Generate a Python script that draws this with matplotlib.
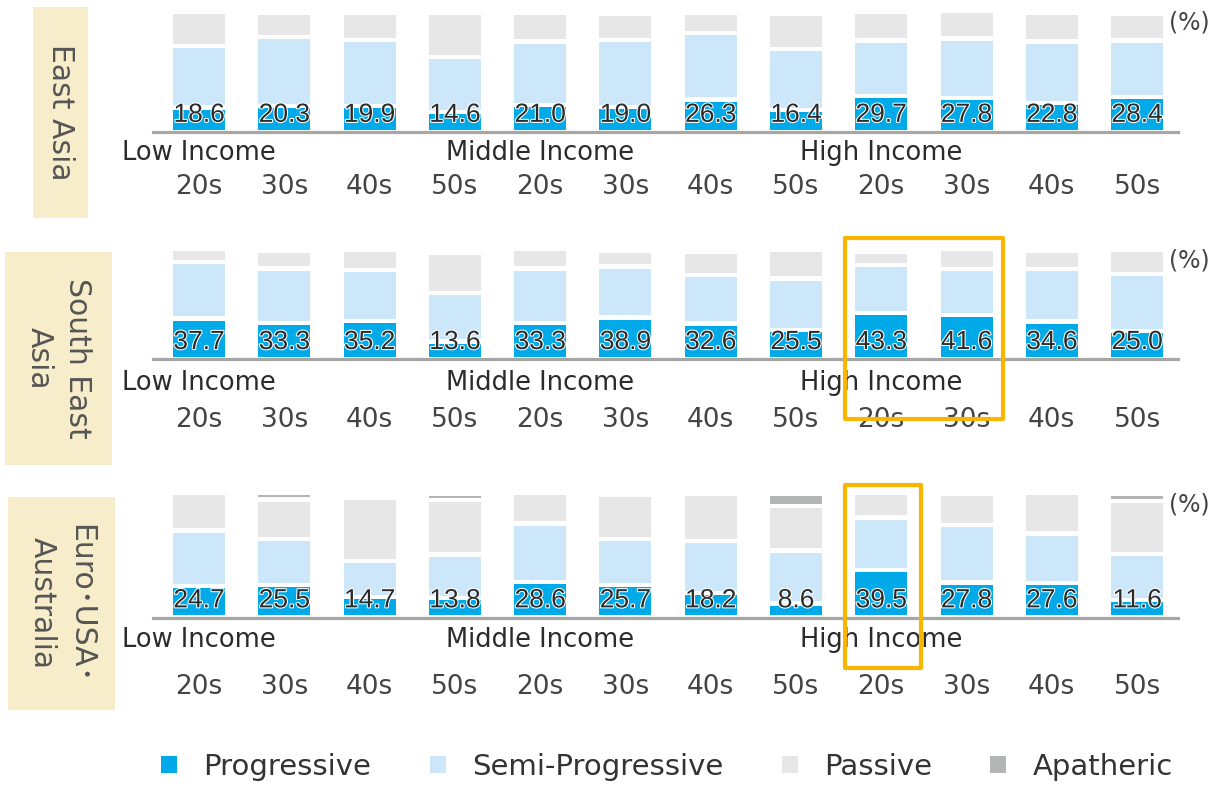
import numpy as np
import matplotlib
matplotlib.use("Agg")
import matplotlib.pyplot as plt
from matplotlib.patches import Rectangle, Patch
import matplotlib.patheffects as pe

plt.rcParams['font.family'] = ['DejaVu Sans', 'Noto Sans CJK JP']

# age brackets inside each income group
ages = ["20s", "30s", "40s", "50s"] * 3
groups = ["Low Income", "Middle Income", "High Income"]
group_pos = [0, 4, 8]
series = ["Progressive", "Semi-Progressive", "Passive", "Apatheric"]

# East Asia
east_prog = [18.6, 20.3, 19.9, 14.6, 21.0, 19.0, 26.3, 16.4, 29.7, 27.8, 22.8, 28.4]
east_semi = [53.8, 60.6, 58.7, 47.4, 56.0, 59.6, 58.6, 53.7, 48.1, 51.9, 54.2, 49.6]
east_pass = [28.9, 18.9, 21.0, 37.7, 22.9, 20.4, 14.8, 29.2, 22.9, 22.1, 22.9, 20.5]
east_apa = [0, 0, 0, 0, 0, 0, 0, 0, 0, 0, 0, 0]

# South East Asia
sea_prog = [37.7, 33.3, 35.2, 13.6, 33.3, 38.9, 32.6, 25.5, 43.3, 41.6, 34.6, 25.0]
sea_semi = [54.8, 52.4, 48.9, 46.5, 52.4, 48.9, 46.1, 49.6, 45.7, 43.6, 50.6, 55.2]
sea_pass = [9.4, 14.0, 16.1, 37.3, 16.4, 11.5, 20.2, 25.5, 9.1, 16.4, 14.0, 20.2]
sea_apa = [0, 0, 0, 0, 0, 0, 0, 0, 0, 0, 0, 0]

# Euro / USA / Australia
euro_prog = [24.7, 25.5, 14.7, 13.8, 28.6, 25.7, 18.2, 8.6, 39.5, 27.8, 27.6, 11.6]
euro_semi = [46.8, 38.4, 28.7, 35.8, 49.5, 38.2, 43.6, 44.6, 44.0, 48.6, 41.3, 38.6]
euro_pass = [30.6, 32.1, 54.1, 45.9, 24.5, 36.7, 39.1, 36.7, 18.3, 24.5, 33.0, 44.3]
euro_apa = [0, 2.0, 0, 2.0, 0, 0, 0, 7.6, 0, 0, 0, 2.8]

colors = ["#00a9e8", "#cde7fa", "#e6e7e6", "#b4b5b5"]

W, H = 1217, 785
fig = plt.figure(figsize=(W / 100, H / 100), dpi=100)

YTOP = 115
GAP_PX = 4.3
BAR_W = 0.61

# name, data, baseline px, px per %, group label offset, age label offset, label box, highlight
panels = [
    ("East Asia", (east_prog, east_semi, east_pass, east_apa), 129.5, 1.06, 23, 57,
     (33, 7, 55, 211), None),
    ("South East\nAsia", (sea_prog, sea_semi, sea_pass, sea_apa), 356.7, 0.955, 26, 63,
     (5, 252, 107, 213), (8 - 0.43, 9 + 0.43, 1.08, -0.565)),
    ("Euro･USA･\nAustralia", (euro_prog, euro_semi, euro_pass, euro_apa), 615, 1.09, 25, 72,
     (8, 497, 107, 213), (8 - 0.43, 8 + 0.47, 1.04, -0.42)),
]

x = np.arange(len(ages))
halo = [pe.withStroke(linewidth=1.5, foreground="white")]

for name, data, base, scale, goff, aoff, box, hl in panels:
    prog, semi, pas, apa = (np.array(d, dtype=float) for d in data)
    ax = fig.add_axes([153 / W, 1 - base / H, 1025 / W, YTOP * scale / H])
    ax.set_xlim(-0.54, 11.48)
    ax.set_ylim(0, YTOP)
    g = GAP_PX / scale

    ax.bar(x, prog, width=BAR_W, color=colors[0])
    ax.bar(x, semi, bottom=prog + g, width=BAR_W, color=colors[1])
    ax.bar(x, pas, bottom=prog + semi + 2 * g, width=BAR_W, color=colors[2])
    m = apa > 0
    ax.bar(x[m], apa[m], bottom=(prog + semi + pas + 3 * g)[m], width=BAR_W,
           color=colors[3])

    for xi, v in zip(x, prog):
        ax.annotate(f"{v:.1f}", (xi, 0), xytext=(0, 5.5), textcoords="offset points",
                    ha="center", va="baseline", fontsize=19, color="#2b2b2b",
                    family="Liberation Sans", path_effects=halo)

    for gi, gname in zip(group_pos, groups):
        ax.annotate(gname, (gi, 0), xytext=(0, -goff * 0.72), textcoords="offset points",
                    ha="center", va="center", fontsize=18.5, color="#2b2b2b",
                    annotation_clip=False)
    for xi, a in zip(x, ages):
        ax.annotate(a, (xi, 0), xytext=(0, -aoff * 0.72), textcoords="offset points",
                    ha="center", va="center", fontsize=19, color="#444444",
                    annotation_clip=False)

    ax.text(11.38, 101, "(%)", ha="left", va="center", fontsize=17, color="#444444")

    for s in ["top", "left", "right"]:
        ax.spines[s].set_visible(False)
    ax.spines["bottom"].set_color("#a6a6a6")
    ax.spines["bottom"].set_linewidth(2.3)
    ax.spines["bottom"].set_position(("outward", 2))
    ax.set_xticks([])
    ax.set_yticks([])
    ax.patch.set_alpha(0)

    # highlighted high-income bars
    if hl is not None:
        x0, x1, y1, y0 = hl
        ax.add_patch(Rectangle((x0, y0), x1 - x0, y1 - y0, transform=ax.get_xaxis_transform(),
                               fill=False, edgecolor="#f8b600", linewidth=3,
                               joinstyle="round", clip_on=False, zorder=5))

    # region label box on the left
    bx, by, bw, bh = box
    fig.patches.append(Rectangle((bx / W, 1 - (by + bh) / H), bw / W, bh / H,
                                 transform=fig.transFigure, facecolor="#f8edca",
                                 edgecolor="none", zorder=0))
    fig.text((bx + bw / 2) / W, 1 - (by + bh / 2) / H, name, rotation=270,
             ha="center", va="center", multialignment="center", linespacing=1.4,
             fontsize=21.5, color="#555555")

handles = [Patch(facecolor=c, edgecolor="none") for c in colors]
fig.legend(handles, series, loc="center", bbox_to_anchor=(667 / W, 1 - 767 / H), ncol=4,
           frameon=False, fontsize=21, handlelength=0.55, handleheight=0.55,
           handletextpad=0.9, columnspacing=2.0, labelcolor="#333333")

fig.savefig("out.png", dpi=100)
